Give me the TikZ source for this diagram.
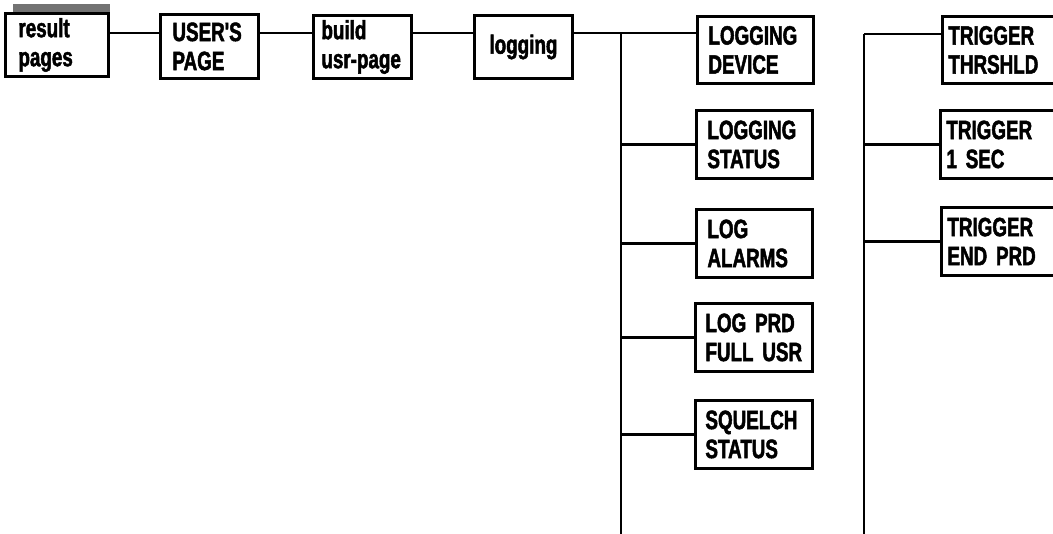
\documentclass[tikz,border=0pt]{standalone}
\usepackage{fontspec}
\newfontfamily\cond{Liberation Sans}[UprightFont={* Bold}, FakeStretch=0.71, FakeBold=1.8, WordSpace=0.7]
\begin{document}
\begin{tikzpicture}[x=1pt,y=-1pt,
  box/.style={draw=black, line width=2.9pt, fill=white, anchor=north west,
    inner ysep=0pt, align=left, font=\cond\fontsize{26.5}{29}\selectfont},
  conn/.style={draw=black, line width=2.6pt}]
\useasboundingbox (0,0) rectangle (1053,534);
\clip (0,0) rectangle (1053,534);
% shadow
\fill[black!55] (13,4) rectangle (110,73);
% top chain
\node[box, minimum width=103pt, minimum height=63pt, inner xsep=13pt, text width=77pt] (res) at (4,12) {result\\pages};
\node[box, minimum width=98pt, minimum height=64pt, inner xsep=12pt, text width=74pt] (usr) at (159,13) {USER'S\\PAGE};
\node[box, minimum width=98pt, minimum height=63pt, inner xsep=8pt, text width=82pt] (bld) at (312,14) {build\\usr-page};
\node[box, minimum width=98pt, minimum height=63pt, inner xsep=12pt, text width=74pt, align=center] (log) at (473,14) {logging};
% left column
\node[box, minimum width=116pt, minimum height=67pt, inner xsep=11pt, text width=94pt] (dev) at (696,15) {LOGGING\\DEVICE};
\node[box, minimum width=116pt, minimum height=68pt, inner xsep=11pt, text width=94pt] (sta) at (695,109) {LOGGING\\STATUS};
\node[box, minimum width=116pt, minimum height=68pt, inner xsep=11pt, text width=94pt] (alm) at (695,208) {LOG\\ALARMS};
\node[box, minimum width=117pt, minimum height=68pt, inner xsep=10pt, text width=97pt] (prd) at (694,302) {LOG~PRD\\FULL~USR};
\node[box, minimum width=117pt, minimum height=68pt, inner xsep=10pt, text width=97pt] (sqc) at (694,399) {SQUELCH\\STATUS};
% right column
\node[box, minimum width=130pt, minimum height=67pt, inner xsep=6pt, text width=118pt] (thr) at (941,15) {TRIGGER\\THRSHLD};
\node[box, minimum width=130pt, minimum height=68pt, inner xsep=6pt, text width=118pt] (sec) at (939,109) {TRIGGER\\1~SEC};
\node[box, minimum width=130pt, minimum height=68pt, inner xsep=6pt, text width=118pt] (end) at (940,206) {TRIGGER\\END~PRD};
% coordinates
\coordinate (row) at (0,33);
\coordinate (trA) at (621,33);
\coordinate (trAend) at (621,540);
\coordinate (trBtop) at (864,34);
\coordinate (trBend) at (864,540);
% connectors
\draw[conn] (res.east |- row) -- (usr.west |- row);
\draw[conn] (usr.east |- row) -- (bld.west |- row);
\draw[conn] (bld.east |- row) -- (log.west |- row);
\draw[conn] (log.east |- row) -- (dev.west |- row);
\draw[conn] (trA) -- (trAend);
\draw[conn] (trA |- sta.west) -- (sta.west);
\draw[conn] (trA |- alm.west) -- (alm.west);
\draw[conn] (trA |- prd.west) -- (prd.west);
\draw[conn] (trA |- sqc.west) -- (sqc.west);
\draw[conn] (trBtop) -- (trBend);
\draw[conn] (trBtop) -- (thr.west |- trBtop);
\draw[conn] (trBtop |- sec.west) -- (sec.west);
\draw[conn] (trBtop |- end.west) -- (end.west);
\end{tikzpicture}
\end{document}
